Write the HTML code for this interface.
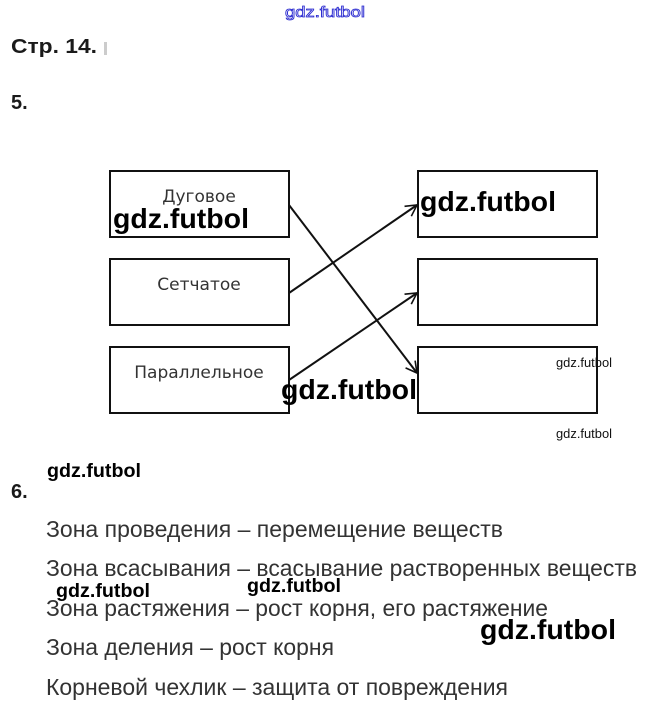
<!DOCTYPE html>
<html><head><meta charset="utf-8"><style>
html,body{margin:0;padding:0;background:#fff;width:648px;height:712px;overflow:hidden}
svg{display:block}
</style></head><body>
<svg width="648" height="712" xmlns="http://www.w3.org/2000/svg">
<defs><marker id="a" markerWidth="14" markerHeight="14" refX="12" refY="7" orient="auto" markerUnits="userSpaceOnUse"><path d="M1,1 L12,7 L1,13" fill="none" stroke="#111" stroke-width="1.6"/></marker></defs>
<text x="285" y="17" font-family="Liberation Sans, sans-serif" font-size="15" fill="#fff" stroke="#2a2ad0" stroke-width="0.8" textLength="80" lengthAdjust="spacingAndGlyphs">gdz.futbol</text>
<text x="11" y="53" font-family="Liberation Sans, sans-serif" font-size="20" font-weight="bold" fill="#1a1a1a" textLength="86" lengthAdjust="spacingAndGlyphs">Стр. 14.</text>
<rect x="104" y="42" width="3" height="13" fill="#ccc"/>
<text x="11" y="109" font-family="Liberation Sans, sans-serif" font-size="20" font-weight="bold" fill="#1a1a1a">5.</text>
<g fill="none" stroke="#111" stroke-width="2">
<rect x="110" y="171" width="179" height="66"/><rect x="110" y="259" width="179" height="66"/><rect x="110" y="347" width="179" height="66"/>
<rect x="418" y="171" width="179" height="66"/><rect x="418" y="259" width="179" height="66"/><rect x="418" y="347" width="179" height="66"/>
<line x1="289" y1="205" x2="417" y2="373" marker-end="url(#a)"/>
<line x1="289" y1="293" x2="417" y2="205" marker-end="url(#a)"/>
<line x1="289" y1="380" x2="417" y2="293" marker-end="url(#a)"/>
</g>
<g font-family="DejaVu Sans, sans-serif" font-size="17" fill="#333" text-anchor="middle">
<text x="199" y="202">Дуговое</text><text x="199" y="290">Сетчатое</text><text x="199" y="378">Параллельное</text>
</g>
<g font-family="Liberation Sans, sans-serif" font-weight="bold" fill="#000">
<text x="113" y="228" font-size="28" textLength="136" lengthAdjust="spacingAndGlyphs">gdz.futbol</text>
<text x="420" y="211" font-size="28" textLength="136" lengthAdjust="spacingAndGlyphs">gdz.futbol</text>
<text x="281" y="399" font-size="28" textLength="136" lengthAdjust="spacingAndGlyphs">gdz.futbol</text>
<text x="480" y="639" font-size="28" textLength="136" lengthAdjust="spacingAndGlyphs">gdz.futbol</text>
<text x="47" y="477" font-size="19" textLength="94" lengthAdjust="spacingAndGlyphs">gdz.futbol</text>
<text x="56" y="597" font-size="19" textLength="94" lengthAdjust="spacingAndGlyphs">gdz.futbol</text>
<text x="247" y="592" font-size="19" textLength="94" lengthAdjust="spacingAndGlyphs">gdz.futbol</text>
</g>
<g font-family="Liberation Sans, sans-serif" font-size="13" fill="#111">
<text x="556" y="367" textLength="56" lengthAdjust="spacingAndGlyphs">gdz.futbol</text>
<text x="556" y="438" textLength="56" lengthAdjust="spacingAndGlyphs">gdz.futbol</text>
</g>
<text x="11" y="498" font-family="Liberation Sans, sans-serif" font-size="20" font-weight="bold" fill="#1a1a1a">6.</text>
<g font-family="Liberation Sans, sans-serif" font-size="23" fill="#333">
<text x="46" y="537" textLength="457" lengthAdjust="spacingAndGlyphs">Зона проведения – перемещение веществ</text>
<text x="46" y="576" textLength="591" lengthAdjust="spacingAndGlyphs">Зона всасывания – всасывание растворенных веществ</text>
<text x="46" y="616" textLength="502" lengthAdjust="spacingAndGlyphs">Зона растяжения – рост корня, его растяжение</text>
<text x="46" y="655" textLength="288" lengthAdjust="spacingAndGlyphs">Зона деления – рост корня</text>
<text x="46" y="695" textLength="462" lengthAdjust="spacingAndGlyphs">Корневой чехлик – защита от повреждения</text>
</g>
</svg>
</body></html>
